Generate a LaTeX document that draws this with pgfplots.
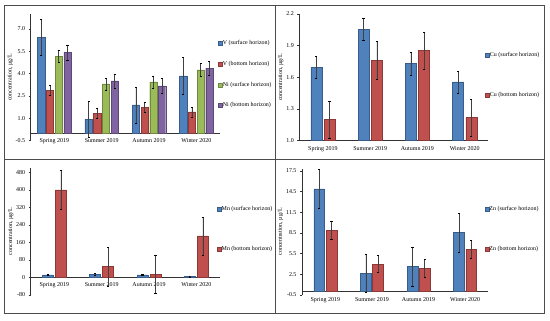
\documentclass[border=0pt]{standalone}
\usepackage{fontspec}
\setmainfont{Liberation Serif}
\usepackage{pgfplots}
\pgfplotsset{compat=1.18}
\definecolor{cblue}{HTML}{4F81BD}
\definecolor{cbluee}{HTML}{385D8A}
\definecolor{cred}{HTML}{C0504D}
\definecolor{credd}{HTML}{8C3836}
\definecolor{cgreen}{HTML}{9BBB59}
\definecolor{cgreene}{HTML}{71893F}
\definecolor{cpurp}{HTML}{8064A2}
\definecolor{cpurpe}{HTML}{5C4776}
\pgfplotsset{
  panel/.style={
    scale only axis,
    xmin=-0.5, xmax=3.5,
    xtick={0,1,2,3},
    xticklabels={Spring 2019, Summer 2019, Autumn 2019, Winter 2020},
    axis y line*=left,
    axis x line*=middle,
    hide obscured x ticks=false,
    hide obscured y ticks=false,
    xtick style={draw=none},
    tick align=outside,
    major tick length=2bp,
    axis line style={black!80, line width=0.5bp},
    ytick style={black!80, line width=0.5bp},
    tick label style={font=\fontsize{6}{7}\selectfont, black},
    label style={font=\fontsize{6}{7}\selectfont, black},
    ylabel style={yshift=-4bp},
    /pgf/number format/assume math mode=true,
    ylabel={concentration, µg/L},
    legend style={draw=none, fill=none, inner sep=0pt, anchor=west,
      font=\fontsize{6}{7}\selectfont,
      nodes={inner sep=0.5bp, anchor=west}},
    legend cell align=left,
    clip=false,
  },
  errb/.style={error bars/y dir=both, error bars/y explicit,
    error bars/error bar style={black!75, line width=0.5bp},
    error bars/error mark options={rotate=90, mark size=1.1bp, black, line width=0.5bp}},
  sblue/.style={fill=cblue, draw=cbluee, line width=0.4bp, errb},
  sred/.style={fill=cred, draw=credd, line width=0.4bp, errb},
  sgreen/.style={fill=cgreen, draw=cgreene, line width=0.4bp, errb},
  spurp/.style={fill=cpurp, draw=cpurpe, line width=0.4bp, errb},
}
\begin{document}
\begin{tikzpicture}
\useasboundingbox (0,0) rectangle (550bp,321bp);
\fill[white] (0,0) rectangle (550bp,321bp);
% Panel 1: V and Ni
\begin{axis}[panel, ybar=1.4bp, bar width=7.3bp,
  legend image code/.code={\draw[#1, line width=0.4bp] (0bp,-2bp) rectangle (4bp,2bp);},
  at={(30.7bp,180.3bp)}, anchor=south west,
  width=189.3bp, height=126.7bp, ymin=-0.5, ymax=8.0,
  ytick={-0.5,1,2.5,4,5.5,7},
  yticklabel style={/pgf/number format/.cd, fixed, fixed zerofill, precision=1},
  legend style={at={(0.988,0.5225)}, row sep=14bp}]
\addplot[sblue] coordinates {
 (0,6.45) +- (0,1.22) (1,0.94) +- (0,1.22) (2,1.90) +- (0,1.21) (3,3.85) +- (0,1.23)};
\addplot[sred] coordinates {
 (0,2.87) +- (0,0.33) (1,1.34) +- (0,0.34) (2,1.75) +- (0,0.33) (3,1.43) +- (0,0.34)};
\addplot[sgreen] coordinates {
 (0,5.15) +- (0,0.40) (1,3.31) +- (0,0.40) (2,3.45) +- (0,0.40) (3,4.25) +- (0,0.45)};
\addplot[spurp] coordinates {
 (0,5.42) +- (0,0.50) (1,3.52) +- (0,0.47) (2,3.18) +- (0,0.49) (3,4.37) +- (0,0.48)};
\legend{V (surface horizon), V (bottom horizon), Ni (surface horizon), Ni (bottom horizon)}
\end{axis}
% Panel 2: Cu
\begin{axis}[panel, ybar=2.2bp, bar width=11bp,
  legend image code/.code={\draw[#1, line width=0.4bp] (0bp,-2bp) rectangle (4bp,2bp);},
  at={(299.3bp,180.3bp)}, anchor=south west,
  width=189bp, height=126.7bp, ymin=1.0, ymax=2.2,
  axis x line*=bottom,
  ytick={1.0,1.3,1.6,1.9,2.2},
  yticklabel style={/pgf/number format/.cd, fixed, fixed zerofill, precision=1},
  legend style={at={(0.982,0.515)}, row sep=33bp}]
\addplot[sblue] coordinates {
 (0,1.695) +- (0,0.106) (1,2.055) +- (0,0.106) (2,1.730) +- (0,0.107) (3,1.556) +- (0,0.105)};
\addplot[sred] coordinates {
 (0,1.199) +- (0,0.177) (1,1.761) +- (0,0.178) (2,1.856) +- (0,0.175) (3,1.218) +- (0,0.177)};
\legend{Cu (surface horizon), Cu (bottom horizon)}
\end{axis}
% Panel 3: Mn
\begin{axis}[panel, ybar=2bp, bar width=11bp,
  legend image code/.code={\draw[#1, line width=0.4bp] (0bp,-2bp) rectangle (4bp,2bp);},
  at={(30.7bp,26bp)}, anchor=south west,
  width=189.3bp, height=127.1bp, ymin=-80, ymax=500,
  ytick={-80,0,80,160,240,320,400,480},
  legend style={at={(0.982,0.519)}, row sep=33bp}]
\addplot[sblue] coordinates {
 (0,12) +- (0,4) (1,15) +- (0,4) (2,12) +- (0,4) (3,5) +- (0,2)};
\addplot[sred] coordinates {
 (0,400) +- (0,87) (1,50) +- (0,88) (2,14) +- (0,88) (3,190) +- (0,87)};
\legend{Mn (surface horizon), Mn (bottom horizon)}
\end{axis}
% Panel 4: Zn
\begin{axis}[panel, ybar=1.4bp, bar width=10.8bp,
  legend image code/.code={\draw[#1, line width=0.4bp] (0bp,-2bp) rectangle (4bp,2bp);},
  at={(302bp,26bp)}, anchor=south west,
  width=186.4bp, height=126.1bp, ymin=-0.5, ymax=17.8,
  ytick={-0.5,2.5,5.5,8.5,11.5,14.5,17.5},
  yticklabel style={/pgf/number format/.cd, fixed, fixed zerofill, precision=1},
  legend style={at={(0.978,0.523)}, row sep=33bp}]
\addplot[sblue] coordinates {
 (0,14.89) +- (0,2.85) (1,2.64) +- (0,2.8) (2,3.61) +- (0,2.8) (3,8.55) +- (0,2.83)};
\addplot[sred] coordinates {
 (0,8.93) +- (0,1.33) (1,3.99) +- (0,1.26) (2,3.37) +- (0,1.3) (3,6.13) +- (0,1.3)};
\legend{Zn (surface horizon), Zn (bottom horizon)}
\end{axis}
% frame
\draw[black!70, line width=0.8bp] (4.7bp,8bp) rectangle (544bp,316bp);
\draw[black!70, line width=1.4bp] (544.3bp,7.5bp) -- (544.3bp,316bp);
\draw[black!70, line width=1.4bp] (4.7bp,7.7bp) -- (544.8bp,7.7bp);
\draw[black!70, line width=0.8bp] (275bp,8bp) -- (275bp,316bp);
\draw[black!70, line width=0.8bp] (4.7bp,161.7bp) -- (544bp,161.7bp);
\end{tikzpicture}
\end{document}
